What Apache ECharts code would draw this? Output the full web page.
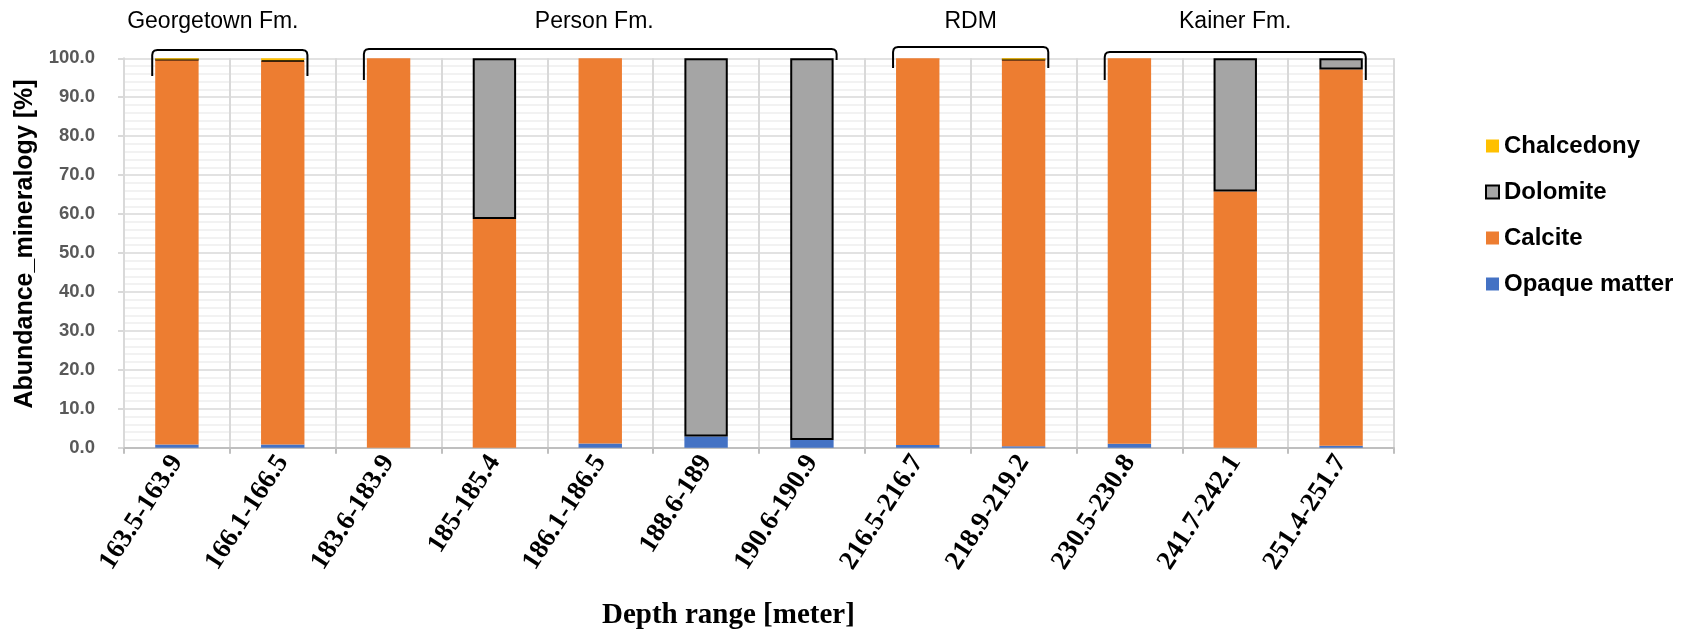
<!DOCTYPE html>
<html><head><meta charset="utf-8">
<script src="https://cdn.jsdelivr.net/npm/echarts@6/dist/echarts.min.js"></script>
<style>html,body{margin:0;padding:0;background:#fff}#c{width:1692px;height:632px}</style>
</head><body><div id="c"></div>
<script>
const categories = ['163.5-163.9','166.1-166.5','183.6-183.9','185-185.4','186.1-186.5','188.6-189','190.6-190.9','216.5-216.7','218.9-219.2','230.5-230.8','241.7-242.1','251.4-251.7'];
const opaque     = [0.8, 0.8, 0,   0,    1.1, 2.9,  2.0,  0.7,  0.4,  1.0,  0,    0.5];
const calcite    = [98.9,98.5,100, 58.7, 98.9,0,    0,    99.3, 99.3, 99.0, 65.8, 96.6];
const dolomite   = [0,   0.2, null,41.3, null,97.1, 98.0, null, 0,    null, 34.2, 2.9];
const chalcedony = [0.3, 0.5, null,null, null,null, null, null, 0.3,  null, null, null];
const seriesNames = ['Opaque matter','Calcite','Dolomite','Chalcedony'];
const legendOrder = ['Chalcedony','Dolomite','Calcite','Opaque matter'];
const yTicks = {min:0, max:100, interval:10};
const groupNames = ['Georgetown Fm.','Person Fm.','RDM','Kainer Fm.'];
const groupFirst = [0,2,7,9];
const groupLast  = [1,6,8,11];
// bracket / label drawing layout (pixels)
const bracketTop = [50,49,47,52];
const bracketLeftEnd = [76,80,68,80];
const bracketRightEnd = [76,60,68,80];
const labelShift = [-17,-6,0,0];

const chart = echarts.init(document.getElementById('c'), null, {renderer:'canvas'});
const BAR = 0.41;
const sans = 'Liberation Sans, Arial, sans-serif';
const serif = 'Liberation Serif, Times New Roman, serif';
const colors = {'Opaque matter':'#4472C4','Calcite':'#ED7D31','Dolomite':'#A5A5A5','Chalcedony':'#FFC000'};
const dataMap = {'Opaque matter':opaque,'Calcite':calcite,'Dolomite':dolomite,'Chalcedony':chalcedony};

chart.setOption({
  animation:false,
  backgroundColor:'#fff',
  title:{text:'Depth range [meter]', left:597, top:596,
    textStyle:{fontFamily:serif, fontWeight:'bold', fontSize:29, color:'#000'}},
  legend:{data:legendOrder, orient:'vertical', left:1480, top:128, itemWidth:13, itemHeight:13,
    itemGap:20, icon:'rect', selectedMode:false,
    textStyle:{fontFamily:sans, fontWeight:'bold', fontSize:24, color:'#000', lineHeight:26}},
  grid:{left:124, right:298, top:58.3, bottom:184.3, containLabel:false},
  xAxis:{type:'category', data:categories,
    axisLine:{lineStyle:{color:'#bfbfbf', width:2}},
    axisTick:{show:true, length:6, alignWithLabel:false, lineStyle:{color:'#bfbfbf', width:2}},
    splitLine:{show:true, lineStyle:{color:'#d9d9d9', width:2}},
    axisLabel:{interval:0, rotate:57, margin:10, fontFamily:serif, fontWeight:'bold', fontSize:27, color:'#000'}},
  yAxis:{type:'value', min:yTicks.min, max:yTicks.max, interval:yTicks.interval,
    name:'Abundance_mineralogy [%]', nameLocation:'middle', nameGap:86,
    nameTextStyle:{fontFamily:sans, fontWeight:'bold', fontSize:25, color:'#000', padding:[0,0,0,18]},
    axisLine:{show:true, lineStyle:{color:'#d9d9d9', width:2}},
    axisTick:{show:true, length:6, lineStyle:{color:'#d9d9d9', width:2}},
    axisLabel:{formatter:v=>v.toFixed(1), margin:29, fontFamily:sans, fontWeight:'bold', fontSize:18.5, color:'#595959'},
    splitLine:{lineStyle:{color:'#d9d9d9', width:1.5}},
    minorTick:{show:false, splitNumber:5},
    minorSplitLine:{show:true, lineStyle:{color:'#eeeeee', width:1.5}}},
  series: seriesNames.map(n=>({
    name:n, type:'bar', stack:'total', data:dataMap[n], barWidth:(BAR*100)+'%',
    itemStyle: n==='Dolomite' ? {color:colors[n], borderColor:'#000', borderWidth:2} : {color:colors[n]}
  }))
});

function drawGroups(){
  const x0 = chart.convertToPixel({xAxisIndex:0}, 0);
  const x1 = chart.convertToPixel({xAxisIndex:0}, 1);
  const half = (x1-x0)*BAR/2;
  const els = [];
  groupNames.forEach((g,i)=>{
    const L = chart.convertToPixel({xAxisIndex:0}, groupFirst[i]) - half - 3;
    const R = chart.convertToPixel({xAxisIndex:0}, groupLast[i]) + half + 3;
    const t = bracketTop[i], r = 5;
    const pts = [[L,bracketLeftEnd[i]],[L,t+r],[L+0.6,t+2.2],[L+2.2,t+0.6],[L+r,t],
                 [R-r,t],[R-2.2,t+0.6],[R-0.6,t+2.2],[R,t+r],[R,bracketRightEnd[i]]];
    els.push({type:'polyline', shape:{points:pts}, style:{fill:null, stroke:'#000', lineWidth:2}, z:100});
    els.push({type:'text', x:(L+R)/2 + labelShift[i], y:22, style:{text:g, fontFamily:sans, fontSize:23, fill:'#000', align:'center', verticalAlign:'middle'}, z:100});
  });
  chart.setOption({graphic:els});
}
drawGroups();
</script></body></html>
